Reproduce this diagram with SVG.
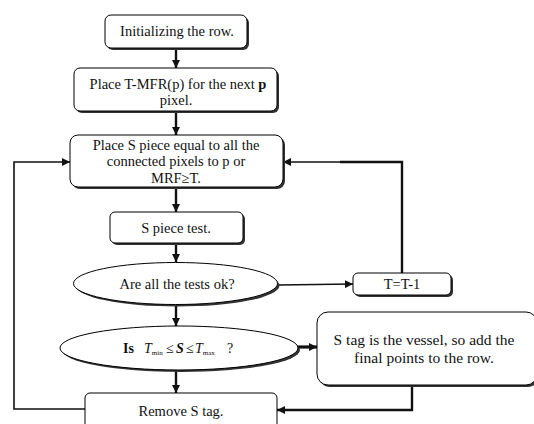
<svg xmlns="http://www.w3.org/2000/svg" width="534" height="424" viewBox="0 0 534 424">
<style>
.box{fill:#fff;stroke:#000;stroke-width:1}
.sh{fill:#333;stroke:none}
.t{font-family:"Liberation Serif","Times New Roman",serif;font-size:14.5px;fill:#111;text-anchor:middle}
.s{font-family:"Liberation Serif","Times New Roman",serif;font-size:14px;fill:#111;text-anchor:start}
.c{fill:none;stroke:#111;stroke-width:1.6}
.ck{fill:none;stroke:#111;stroke-width:2.4}
</style>
<defs>
<marker id="ah" markerUnits="userSpaceOnUse" markerWidth="8" markerHeight="8" refX="8" refY="4" orient="auto">
<path d="M0,0 L8,4 L0,8 z" fill="#111"/>
</marker>
</defs>
<rect width="534" height="424" fill="#fff"/>
<g id="connectors">
<line class="ck" x1="176" y1="48" x2="176" y2="68" marker-end="url(#ah)"/>
<line class="ck" x1="176" y1="111" x2="176" y2="135" marker-end="url(#ah)"/>
<line class="ck" x1="176" y1="188" x2="176" y2="212" marker-end="url(#ah)"/>
<line class="ck" x1="176" y1="244" x2="176" y2="262" marker-end="url(#ah)"/>
<line class="ck" x1="176" y1="305" x2="176" y2="326" marker-end="url(#ah)"/>
<line class="ck" x1="176" y1="370" x2="176" y2="393" marker-end="url(#ah)"/>
<line class="c" x1="278" y1="285" x2="353" y2="284" marker-end="url(#ah)"/>
<polyline class="ck" points="402,273 402,162 340,162"/>
<polyline class="c" points="340,162 283,162" marker-end="url(#ah)"/>
<polyline class="c" points="85,409 14,409 14,162 70,162" marker-end="url(#ah)"/>
<line x1="298" y1="347" x2="317" y2="347" stroke="#111" stroke-width="3.2" marker-end="url(#ah)"/>
<polyline class="ck" points="412,386 412,410 277,410" marker-end="url(#ah)"/>
</g>
<g id="n1">
<rect class="sh" x="107" y="17" width="142" height="33" rx="6"/>
<rect class="box" x="105" y="15" width="142" height="33" rx="6"/>
<text class="t" x="177" y="36">Initializing the row.</text>
</g>
<g id="n2">
<rect class="sh" x="76" y="70" width="203" height="43" rx="6"/>
<rect class="box" x="74" y="68" width="203" height="43" rx="6"/>
<text class="t" x="178" y="89">Place T-MFR(p) for the next <tspan font-weight="bold">p</tspan></text>
<text class="t" x="176" y="105">pixel.</text>
</g>
<g id="n3">
<rect class="sh" x="72" y="137" width="213" height="52" rx="8"/>
<rect class="box" x="70" y="135" width="213" height="52" rx="8"/>
<text class="t" x="176" y="150">Place S piece equal to all the</text>
<text class="t" x="176" y="166">connected pixels to p or</text>
<text class="t" x="176" y="183">MRF≥T.</text>
</g>
<g id="n4">
<rect class="sh" x="112" y="214" width="133" height="31" rx="5"/>
<rect class="box" x="110" y="212" width="133" height="31" rx="5"/>
<text class="t" x="176" y="233">S piece test.</text>
</g>
<g id="n5">
<ellipse class="sh" cx="177.5" cy="285.5" rx="102" ry="21"/>
<ellipse class="box" cx="175.5" cy="283.5" rx="102" ry="21"/>
<text class="t" x="177" y="289">Are all the tests ok?</text>
</g>
<g id="n6">
<rect class="sh" x="355" y="275" width="98" height="22" rx="5"/>
<rect class="box" x="353" y="273" width="98" height="22" rx="5"/>
<text class="t" x="402" y="289">T=T-1</text>
</g>
<g id="n7">
<ellipse class="sh" cx="181" cy="350" rx="119" ry="22"/>
<ellipse class="box" cx="179" cy="348" rx="119" ry="22"/>
<text class="s" x="123" y="353"><tspan font-weight="bold">Is</tspan><tspan x="144" font-style="italic">T</tspan><tspan font-size="7" dy="2">min</tspan><tspan x="166" dy="-2">≤</tspan><tspan x="176" font-style="italic" font-weight="bold">S</tspan><tspan x="186">≤</tspan><tspan x="195" font-style="italic">T</tspan><tspan font-size="7" dy="2">max</tspan><tspan x="227" dy="-2">?</tspan></text>
</g>
<g id="n8">
<rect class="sh" x="319" y="314" width="220" height="73" rx="11"/>
<rect class="box" x="317" y="312" width="220" height="73" rx="11"/>
<text class="t" x="424" y="345" style="font-size:15.5px">S tag is the vessel, so add the</text>
<text class="t" x="424" y="363" style="font-size:15.5px">final points to the row.</text>
</g>
<g id="n9">
<rect class="box" x="85" y="393" width="192" height="40" rx="5"/>
<text class="t" x="181" y="416">Remove S tag.</text>
</g>
</svg>
